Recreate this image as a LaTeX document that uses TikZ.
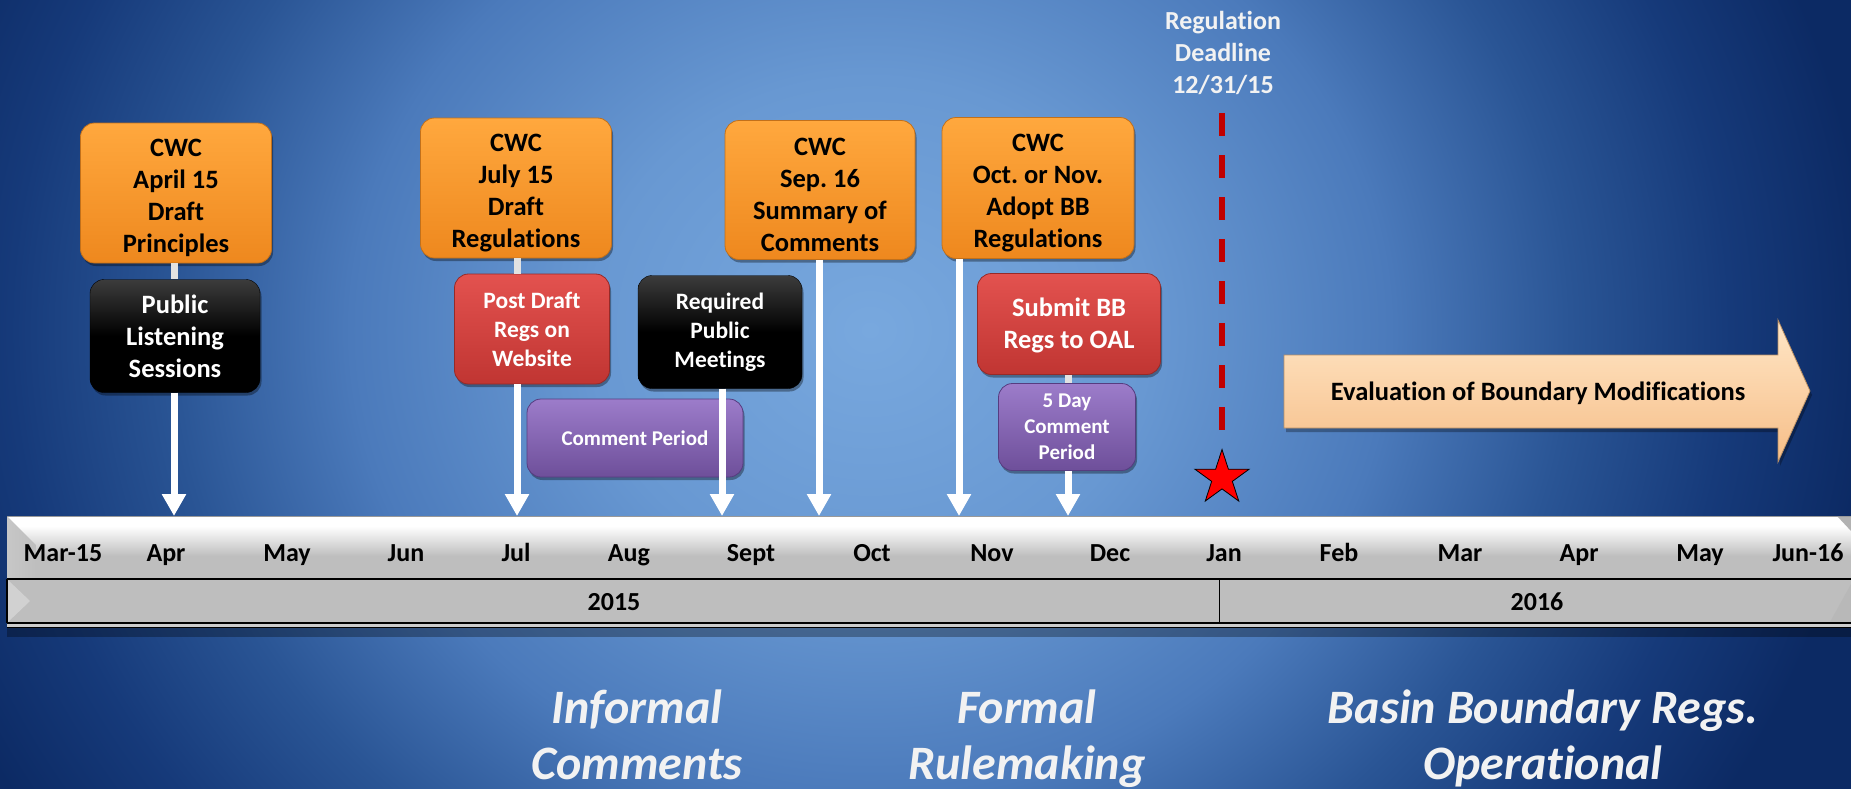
\documentclass[tikz,border=0pt]{standalone}
\usepackage{fontspec}
\setmainfont{Carlito}[Ligatures=NoCommon]
\frenchspacing
\usetikzlibrary{shapes.geometric,arrows.meta,shadows}
\definecolor{bg0}{HTML}{78A8DE}
\definecolor{bg1}{HTML}{6898D2}
\definecolor{bg2}{HTML}{4B7ABB}
\definecolor{bg3}{HTML}{2A5595}
\definecolor{bg4}{HTML}{163A7A}
\definecolor{bg5}{HTML}{0C2A64}
\pgfdeclareradialshading{bgshade}{\pgfpoint{0bp}{0bp}}{color(0bp)=(bg0); color(7bp)=(bg1); color(13bp)=(bg2); color(17.5bp)=(bg3); color(21.5bp)=(bg4); color(25bp)=(bg5); color(50bp)=(bg5)}
\definecolor{orTop}{HTML}{FFA83E}
\definecolor{orBot}{HTML}{EE881E}
\definecolor{orEdge}{HTML}{C2701A}
\definecolor{rdTop}{HTML}{E3524F}
\definecolor{rdBot}{HTML}{C03532}
\definecolor{rdEdge}{HTML}{962A28}
\definecolor{kTop}{HTML}{3C3C3C}
\definecolor{puTop}{HTML}{9C7CCA}
\definecolor{puBot}{HTML}{6E4F9A}
\definecolor{puEdge}{HTML}{563C80}
\definecolor{peTop}{HTML}{FFE6C6}
\definecolor{peMid}{HTML}{FCCC98}
\definecolor{peBot}{HTML}{F6BE88}
\definecolor{peEdge}{HTML}{B98F63}
\definecolor{barg}{HTML}{BEBEBE}
\definecolor{deadred}{HTML}{C00000}
\definecolor{labwhite}{HTML}{F2F2F2}
\definecolor{linkgrey}{HTML}{E2E2E2}
\newcommand{\tstr}{\rule{0pt}{27pt}}
\begin{document}
\begin{tikzpicture}[x=1pt,y=-1pt,
  box/.style={rectangle, rounded corners=14pt, inner sep=0pt, align=center,
    font=\fontsize{26.5}{32}\selectfont\bfseries,
    drop shadow={shadow xshift=1.5pt, shadow yshift=-3pt, opacity=0.35, fill=black}},
  obox/.style={box, top color=orTop, bottom color=orBot, draw=orEdge, line width=0.8pt, text=black},
  rbox/.style={box, top color=rdTop, bottom color=rdBot, draw=rdEdge, line width=0.8pt, text=white},
  kbox/.style={box, top color=kTop, bottom color=black, middle color=black, draw=black, text=white},
  pbox/.style={box, top color=puTop, bottom color=puBot, draw=puEdge, line width=0.8pt, text=white,
    font=\fontsize{21}{26}\selectfont\bfseries},
  small/.style={font=\fontsize{23.5}{29}\selectfont\bfseries},
  mlab/.style={anchor=base, inner sep=0pt, text=black, font=\fontsize{26}{32}\selectfont\bfseries},
  blab/.style={anchor=north, align=center, inner sep=0pt, text=labwhite,
    font=\fontsize{48}{56}\selectfont\bfseries\itshape},
  warrow/.style={draw=white, line width=7pt, -{Triangle[width=23pt,length=22pt]}},
  wlink/.style={draw=linkgrey, line width=7pt}
]
\useasboundingbox (0,0) rectangle (1851,788);
\begin{scope}
\clip (0,0) rectangle (1851,788);
% background
\shade[shading=bgshade] (-130,-570) rectangle (1870,1230);

% timeline bar
\fill[black, opacity=0.3] (7,627) rectangle (1851,637);
\fill[barg] (7,516) rectangle (1851,623);
\fill[white] (7,516) rectangle (1851,526);
\shade[top color=white, bottom color=barg] (7,526) rectangle (1851,556);
\shade[left color=black!22, right color=barg] (7,516) -- (36,545) -- (36,579) -- (7,579) -- cycle;
\fill[black!18] (8,580) -- (30,601) -- (8,622) -- cycle;
\fill[black!30] (1837,516) -- (1851,516) -- (1851,531) -- cycle;
\fill[black!28] (1851,584) -- (1851,622) -- (1830,622) -- cycle;
\draw[black!40, line width=0.6pt] (7,516) -- (1851,516);
\fill[black!20] (7,623) rectangle (1851,627);
\draw[line width=2pt] (7,579) -- (1851,579);
\draw[line width=1.6pt] (7,623) -- (1851,623);
\draw[line width=1pt] (7,627) -- (1851,627);
\draw[line width=1.2pt] (7,579) -- (7,623);
\draw[line width=0.8pt] (1219,579) -- (1219,623);

% month labels
\node[mlab] (m1) at (63,561) {Mar-15};
\node[mlab] (m2) at (166,561) {Apr};
\node[mlab] (m3) at (287,561) {May};
\node[mlab] (m4) at (406,561) {Jun};
\node[mlab] (m5) at (516,561) {Jul};
\node[mlab] (m6) at (629,561) {Aug};
\node[mlab] (m7) at (751,561) {Sept};
\node[mlab] (m8) at (872,561) {Oct};
\node[mlab] (m9) at (992,561) {Nov};
\node[mlab] (m10) at (1110,561) {Dec};
\node[mlab] (m11) at (1224,561) {Jan};
\node[mlab] (m12) at (1339,561) {Feb};
\node[mlab] (m13) at (1460,561) {Mar};
\node[mlab] (m14) at (1579,561) {Apr};
\node[mlab] (m15) at (1700,561) {May};
\node[mlab] (m16) at (1808,561) {Jun-16};
\node[mlab] (y1) at (614,610) {2015};
\node[mlab] (y2) at (1537,610) {2016};

% arrow targets on the bar
\coordinate (tA) at (174,516);
\coordinate (tB) at (517,516);
\coordinate (tC) at (722,516);
\coordinate (tD) at (819,516);
\coordinate (tE) at (959,516);
\coordinate (tF) at (1068,516);

% boxes
\node[obox, minimum width=191pt, minimum height=140pt] (o1) at (176,193) {\tstr CWC\\April 15\\Draft\\Principles};
\node[kbox, minimum width=170pt, minimum height=113pt] (k1) at (175,336) {Public\\Listening\\Sessions};
\node[obox, minimum width=191pt, minimum height=140pt] (o2) at (516,188) {\tstr CWC\\July 15\\Draft\\Regulations};
\node[rbox, small, minimum width=155pt, minimum height=110pt] (r1) at (532,329) {Post Draft\\Regs on\\Website};
\node[pbox, minimum width=216pt, minimum height=78pt] (p1) at (635,438) {Comment Period};
\node[kbox, small, minimum width=164pt, minimum height=113pt] (k2) at (720,332) {Required\\Public\\Meetings};
\node[obox, minimum width=190pt, minimum height=139pt] (o3) at (820,190) {\tstr CWC\\Sep. 16\\Summary of\\Comments};
\node[obox, minimum width=192pt, minimum height=141pt] (o4) at (1038,188) {\tstr CWC\\Oct. or Nov.\\Adopt BB\\Regulations};
\node[rbox, minimum width=183pt, minimum height=101pt] (r2) at (1069,324) {\rule{0pt}{22pt}Submit BB\\Regs to OAL};
\node[pbox, minimum width=137pt, minimum height=87pt] (p2) at (1067,427) {5 Day\\Comment\\Period};

% connectors
\draw[wlink] (o1.south -| tA) -- (k1.north -| tA);
\draw[warrow] (k1.south -| tA) -- (tA);
\draw[wlink] (o2.south -| tB) -- (r1.north -| tB);
\draw[warrow] (r1.south -| tB) -- (tB);
\draw[warrow] (k2.south -| tC) -- (tC);
\draw[warrow] (o3.south -| tD) -- (tD);
\draw[warrow] (o4.south -| tE) -- (tE);
\draw[wlink] (r2.south -| tF) -- (p2.north -| tF);
\draw[warrow] (p2.south -| tF) -- (tF);

% regulation deadline
\node[anchor=north, align=center, inner sep=0pt, text=labwhite, font=\fontsize{26}{32}\selectfont\bfseries] (dl) at (1223,11) {Regulation\\Deadline\\12/31/15};
\coordinate (dtop) at (1222,113);
\coordinate (dbot) at (1222,431);
\draw[deadred, line width=6pt, dash pattern=on 23pt off 19pt] (dtop) -- (dbot);
\node[star, star points=5, star point ratio=2.618, minimum size=57pt, inner sep=0pt, fill=red, draw=black, line width=0.8pt] (st) at (1222,478) {};

% evaluation arrow
\fill[black, opacity=0.3] (1286,359) -- (1780,359) -- (1780,324) -- (1812,395) -- (1780,466) -- (1780,432) -- (1286,432) -- cycle;
\shade[top color=peTop, middle color=peMid, bottom color=peBot, draw=peEdge, line width=0.8pt]
  (1284,355) -- (1778,355) -- (1778,320) -- (1810,391) -- (1778,462) -- (1778,428) -- (1284,428) -- cycle;
\node[anchor=base, inner sep=0pt, text=black, font=\fontsize{26.5}{32}\selectfont\bfseries] (ev) at (1538,400) {Evaluation of Boundary Modifications};

% phase labels
\node[blab] (ph1) at (637,690) {Informal\\Comments};
\node[blab] (ph2) at (1027,690) {Formal\\Rulemaking};
\node[blab] (ph3) at (1543,690) {Basin Boundary Regs.\\Operational};
\end{scope}
\end{tikzpicture}
\end{document}
